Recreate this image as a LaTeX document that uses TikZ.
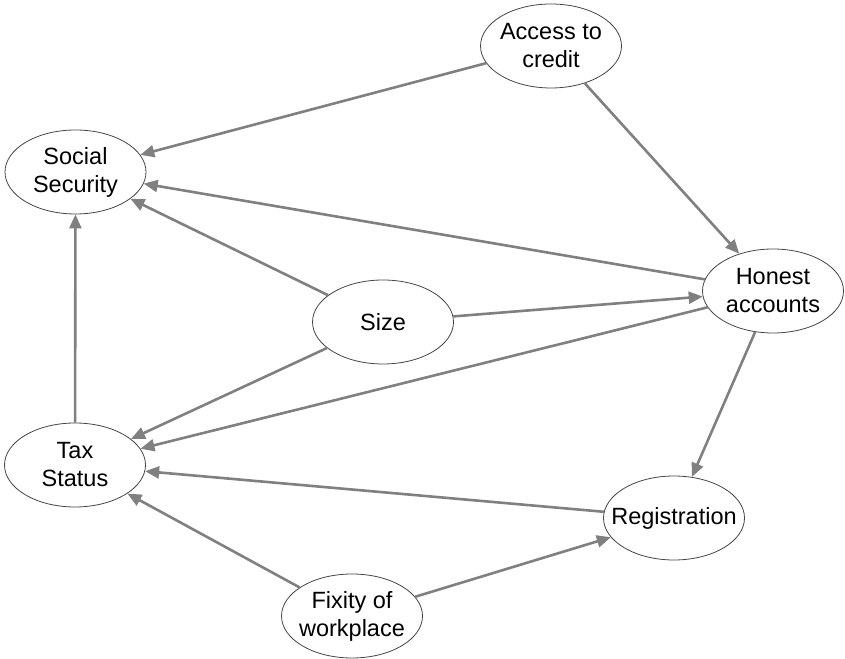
\documentclass[tikz,border=0pt]{standalone}
\usepackage{fontspec}
\setmainfont{Liberation Sans}
\usepackage{tikz}
\usetikzlibrary{shapes.geometric,arrows.meta,positioning}
\definecolor{edgeGray}{RGB}{128,128,128}
\definecolor{rimGray}{RGB}{70,70,70}
\tikzset{
  factor/.style={ellipse,draw=rimGray,line width=0.8pt,fill=white,
    minimum width=141pt,minimum height=84pt,inner xsep=-20pt,inner ysep=0pt,
    align=center,font=\fontsize{23.5}{28}\selectfont},
  link/.style={-{Triangle[length=14pt,width=12pt]},line width=2.6pt,edgeGray}
}
\begin{document}
\begin{tikzpicture}[x=1pt,y=1pt]
  \useasboundingbox (0,0) rectangle (845,658);
  % Factors
  \node[factor] (credit) at (551,612) {Access to\\credit};
  \node[factor] (social) at (75.5,486) {Social\\Security};
  \node[factor] (honest) at (773,367) {Honest\\accounts};
  \node[factor] (size)   at (383,336) {Size};
  \node[factor] (tax)    at (75,193) {Tax\\Status};
  \node[factor] (regist) at (674,140) {Registration};
  \node[factor] (fixity) at (352,42) {Fixity of\\workplace};
  % Influences
  \draw[link] (credit) -- (social);
  \draw[link] (credit) -- (honest);
  \draw[link] (honest) -- (social);
  \draw[link] (size) -- (social);
  \draw[link] (size) -- (honest);
  \draw[link] (size) -- (tax);
  \draw[link] (honest) -- (tax);
  \draw[link] (honest) -- (regist);
  \draw[link] (tax) -- (social);
  \draw[link] (regist) -- (tax);
  \draw[link] (fixity) -- (tax);
  \draw[link] (fixity) -- (regist);
\end{tikzpicture}
\end{document}
